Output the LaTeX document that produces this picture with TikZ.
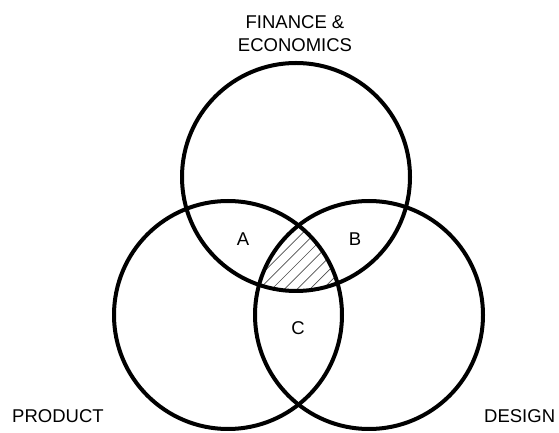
\documentclass[tikz,border=0pt]{standalone}
\usepackage{fontspec}
\setmainfont{Liberation Sans}
\usetikzlibrary{calc}
\begin{document}
\begin{tikzpicture}[x=1pt,y=1pt,
  ring/.style={line width=4pt,draw=black},
  lab/.style={font=\fontsize{18.5}{23}\selectfont,inner sep=0pt,align=center},
  hatch/.style={line width=0.7pt,draw=black!70}]
\useasboundingbox (0,0) rectangle (559,433);
\coordinate (ct) at (296,256);
\coordinate (cl) at (228,118);
\coordinate (cr) at (369,118);
\begin{scope}
  \clip (ct) circle (114);
  \clip (cl) circle (114);
  \clip (cr) circle (114);
  \foreach \k in {-20,...,20}{
    \draw[hatch] ($(298,170)+(\k*12.7,0)$) -- ++(90,90) -- ++(-180,-180);
  }
\end{scope}
\draw[ring] (ct) circle (114);
\draw[ring] (cl) circle (114);
\draw[ring] (cr) circle (114);
\node[lab] (fin) at (295,399) {FINANCE \&\\ECONOMICS};
\node[lab,anchor=base west] (prod) at (12,10) {PRODUCT};
\node[lab,anchor=base west] (des) at (484,10) {DESIGN};
\node[lab] (a) at (243,194) {A};
\node[lab] (b) at (355,194) {B};
\node[lab] (c) at (298,105) {C};
\end{tikzpicture}
\end{document}
